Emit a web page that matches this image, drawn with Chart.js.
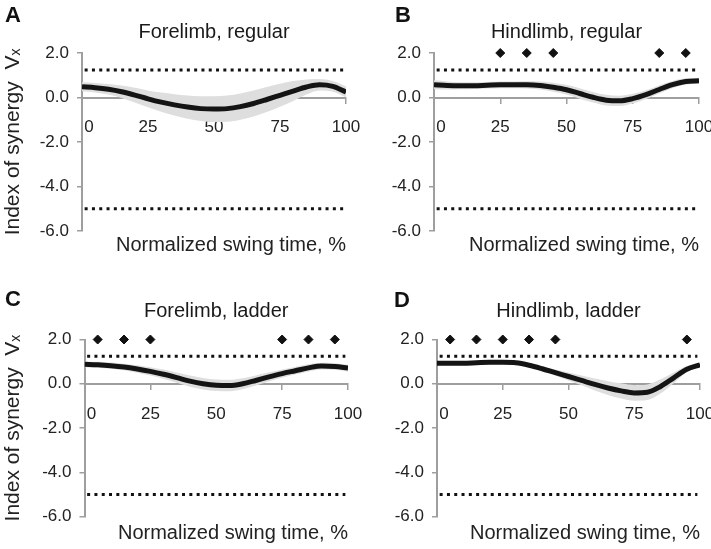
<!DOCTYPE html>
<html>
<head>
<meta charset="utf-8">
<script src="https://cdn.jsdelivr.net/npm/chart.js@4.4.1/dist/chart.umd.min.js"></script>
<style>
  body { margin: 0; background: #fff; width: 711px; height: 549px; position: relative; overflow: hidden; }
  canvas { position: absolute; }
  .tag { position: absolute; font: bold 22px "Liberation Sans", Arial, sans-serif; line-height: 22px; color: #111; }
</style>
</head>
<body>
<canvas id="panelA" width="370" height="270" style="left:0;top:0"></canvas>
<canvas id="panelB" width="356" height="270" style="left:355px;top:0"></canvas>
<canvas id="panelC" width="370" height="279" style="left:0;top:270px"></canvas>
<canvas id="panelD" width="356" height="279" style="left:355px;top:270px"></canvas>
<div class="tag" style="left:5px;top:4px">A</div>
<div class="tag" style="left:395px;top:4px">B</div>
<div class="tag" style="left:5px;top:288px">C</div>
<div class="tag" style="left:394px;top:289px">D</div>
<script>
// normalized swing time, %
const swingTime = [0, 5, 10, 15, 20, 25, 30, 35, 40, 45, 50, 55, 60, 65, 70, 75, 80, 85, 90, 95, 100];

const foreRegularMean = [0.48, 0.44, 0.37, 0.26, 0.11, -0.06, -0.21, -0.33, -0.43, -0.50, -0.52, -0.50, -0.41, -0.27, -0.09, 0.10, 0.29, 0.47, 0.57, 0.50, 0.25];
const foreRegularSd   = [0.20, 0.21, 0.24, 0.28, 0.33, 0.38, 0.43, 0.48, 0.52, 0.56, 0.58, 0.59, 0.59, 0.58, 0.56, 0.52, 0.45, 0.34, 0.26, 0.24, 0.25];

const hindRegularMean = [0.57, 0.54, 0.53, 0.53, 0.55, 0.57, 0.57, 0.57, 0.54, 0.46, 0.35, 0.18, 0.01, -0.12, -0.15, -0.05, 0.13, 0.36, 0.58, 0.72, 0.75];
const hindRegularSd   = [0.20, 0.18, 0.16, 0.15, 0.15, 0.15, 0.15, 0.16, 0.18, 0.20, 0.22, 0.24, 0.24, 0.24, 0.23, 0.22, 0.20, 0.18, 0.16, 0.14, 0.13];

const foreLadderMean = [0.88, 0.86, 0.82, 0.76, 0.67, 0.56, 0.43, 0.28, 0.12, 0.00, -0.07, -0.08, 0.00, 0.15, 0.31, 0.46, 0.59, 0.72, 0.80, 0.78, 0.71];
const foreLadderSd   = [0.13, 0.13, 0.14, 0.15, 0.17, 0.19, 0.21, 0.23, 0.25, 0.26, 0.26, 0.26, 0.25, 0.23, 0.21, 0.19, 0.17, 0.16, 0.15, 0.15, 0.15];

const hindLadderMean = [0.93, 0.93, 0.93, 0.95, 0.97, 0.97, 0.95, 0.84, 0.68, 0.50, 0.33, 0.15, -0.03, -0.19, -0.32, -0.41, -0.38, -0.12, 0.27, 0.66, 0.86];
const hindLadderSd   = [0.07, 0.07, 0.07, 0.07, 0.07, 0.07, 0.08, 0.09, 0.11, 0.14, 0.18, 0.22, 0.27, 0.31, 0.34, 0.35, 0.35, 0.32, 0.24, 0.14, 0.08];

// significant differences (diamonds at the top of each panel)
const foreRegularSig = [];
const hindRegularSig = [25, 35, 45, 85, 95];
const foreLadderSig = [5, 15, 25, 75, 85, 95];
const hindLadderSig = [5, 15, 25, 35, 45, 95];
const sigLevel = 2.0;

// dotted threshold lines
const thresholdX = [1, 99];
const thresholdUpper = 1.24;
const thresholdLower = -5.0;

Chart.defaults.font.family = '"Liberation Sans", Arial, sans-serif';
Chart.defaults.color = '#222';

const axisGray = '#9e9e9e';

function buildPanel(id, name, mean, sd, sig, lay) {
  const meanPts = swingTime.map((t, i) => ({ x: t, y: mean[i] }));
  const upperPts = swingTime.map((t, i) => ({ x: t, y: mean[i] + sd[i] }));
  const lowerPts = swingTime.map((t, i) => ({ x: t, y: mean[i] - sd[i] }));
  const sigPts = sig.map(t => ({ x: t, y: sigLevel }));
  const dotted = v => thresholdX.map(t => ({ x: t, y: v }));

  return new Chart(document.getElementById(id), {
    type: 'line',
    data: {
      datasets: [
        { data: meanPts, borderColor: '#141414', borderWidth: 5, pointRadius: 0, cubicInterpolationMode: 'monotone' },
        { data: sigPts, showLine: false, pointStyle: 'rectRot', pointRadius: 4.5, backgroundColor: '#111', borderColor: '#111', clip: false },
        { data: dotted(thresholdUpper), borderColor: '#111', borderWidth: 3, borderDash: [3, 4.3], pointRadius: 0 },
        { data: dotted(thresholdLower), borderColor: '#111', borderWidth: 3, borderDash: [3, 4.3], pointRadius: 0 },
        { data: upperPts, borderWidth: 0, pointRadius: 0, fill: '+1', backgroundColor: '#dedede', cubicInterpolationMode: 'monotone' },
        { data: lowerPts, borderWidth: 0, pointRadius: 0, cubicInterpolationMode: 'monotone' }
      ]
    },
    options: {
      responsive: false,
      animation: false,
      layout: { padding: { right: lay.padRight } },
      plugins: {
        legend: { display: false },
        tooltip: { enabled: false },
        title: {
          display: true,
          text: name,
          fullSize: false,
          color: '#1a1a1a',
          font: { size: 20, weight: 'normal' },
          padding: { top: lay.titleTop, bottom: lay.titleBottom }
        }
      },
      scales: {
        x: {
          type: 'linear',
          min: 0,
          max: 100,
          position: { y: 0 },
          ticks: {
            stepSize: 25,
            padding: 15,
            font: { size: 17 },
            color: '#222',
            callback: v => (v === 0 ? '   0' : v)
          },
          grid: { drawOnChartArea: false, tickLength: 5, color: axisGray, lineWidth: 1.5 },
          border: { color: axisGray, width: 2 },
          afterFit(s) { s.height = 0; s.paddingLeft = 0; s.paddingRight = 0; }
        },
        y: {
          min: -6,
          max: 2,
          ticks: { stepSize: 2, padding: 8, font: { size: 17 }, color: '#222', callback: v => v.toFixed(1) },
          grid: { drawOnChartArea: false, tickLength: 5, color: axisGray, lineWidth: 1.5 },
          border: { color: axisGray, width: 2 },
          title: {
            display: lay.yTitle,
            text: 'Index of synergy  V\u2093',
            color: '#222',
            font: { size: 21 },
            padding: { top: 1, bottom: 0 }
          },
          afterFit(s) { s.width = lay.axisLeft; }
        },
        x2: {
          type: 'linear',
          position: 'bottom',
          grid: { display: false },
          border: { display: false },
          ticks: { display: false },
          title: {
            display: true,
            text: 'Normalized swing time, %',
            align: 'end',
            color: '#222',
            font: { size: 20 },
            padding: { top: 0, bottom: lay.xTitleBottom }
          },
          afterFit(s) { s.height = lay.bottomSpace; }
        }
      }
    }
  });
}

buildPanel('panelA', 'Forelimb, regular', foreRegularMean, foreRegularSd, foreRegularSig,
  { axisLeft: 82, padRight: 24, titleTop: 20, titleBottom: 9, bottomSpace: 39, xTitleBottom: 13, yTitle: true });
buildPanel('panelB', 'Hindlimb, regular', hindRegularMean, hindRegularSd, hindRegularSig,
  { axisLeft: 79, padRight: 12, titleTop: 20, titleBottom: 9, bottomSpace: 39, xTitleBottom: 13, yTitle: false });
buildPanel('panelC', 'Forelimb, ladder', foreLadderMean, foreLadderSd, foreLadderSig,
  { axisLeft: 84.5, padRight: 22, titleTop: 29, titleBottom: 16.5, bottomSpace: 32.3, xTitleBottom: 3.7, yTitle: true });
buildPanel('panelD', 'Hindlimb, ladder', hindLadderMean, hindLadderSd, hindLadderSig,
  { axisLeft: 82, padRight: 11, titleTop: 29, titleBottom: 16.5, bottomSpace: 32.3, xTitleBottom: 3.7, yTitle: false });
</script>
</body>
</html>
